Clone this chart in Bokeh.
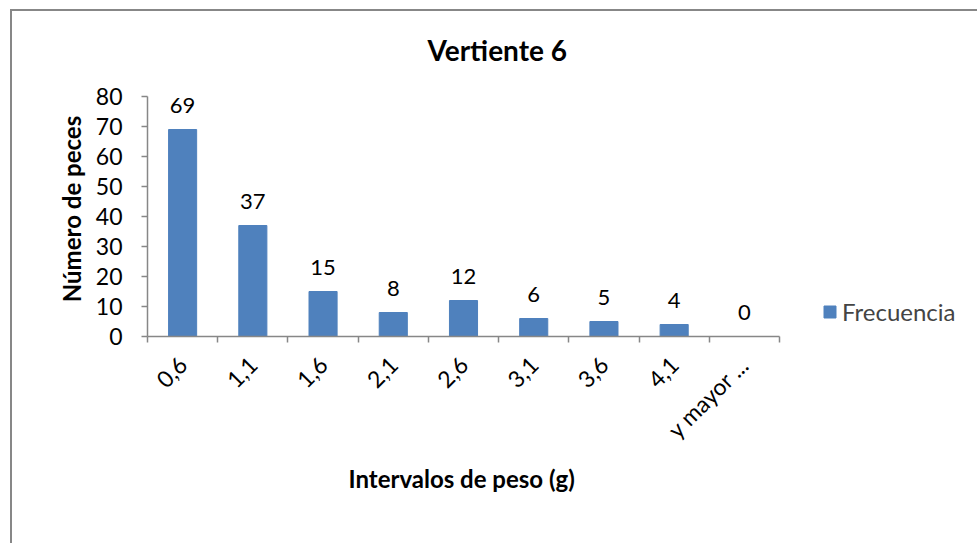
import math
from bokeh.plotting import figure
from bokeh.models import (FixedTicker, LabelSet, Legend, LegendItem,
                          ColumnDataSource, Range1d, Title)
from bokeh.core.properties import value
from bokeh.embed import file_html
from bokeh.resources import INLINE

# ---- data ----
categories = ["0,6", "1,1", "1,6", "2,1", "2,6", "3,1", "3,6", "4,1", "y mayor ..."]
frecuencia = [69, 37, 15, 8, 12, 6, 5, 4, 0]
y_ticks = [0, 10, 20, 30, 40, 50, 60, 70, 80]
title_text = "Vertiente 6"
x_title = "Intervalos de peso (g)"
y_title = "Número de peces"
series_name = "Frecuencia"

FONT = "Lato"
BAR = "#4F81BD"
AX = "#878787"
TXT = "22px"
LAB = "24px"

# layout (pixels): plotting area spans to the right edge so the legend can sit inside it
AXIS_PX = 632      # length of the category axis
FRAME_PX = 832     # width of the plotting frame
Y_MAX = 80
Y_TOP = 85         # headroom above the last tick so labels are not clipped

n = len(categories)
xc = [i + 0.5 for i in range(n)]
src = ColumnDataSource(dict(x=xc, top=frecuencia, label=[str(v) for v in frecuencia]))

p = figure(width=967, height=534, output_backend="svg", toolbar_location=None,
           x_range=Range1d(0, n * FRAME_PX / AXIS_PX), y_range=Range1d(0, Y_TOP),
           min_border_left=135, min_border_right=0,
           min_border_top=70, min_border_bottom=209,
           margin=(9, 0, 0, 10))
p.styles = {"border-left": f"2px solid {AX}", "border-top": f"2px solid {AX}"}
p.outline_line_color = None
p.xgrid.visible = False
p.ygrid.visible = False
p.background_fill_color = "white"
p.border_fill_color = "white"

# title
p.title.text = title_text
p.title.align = "left"
p.title.offset = 280
p.title.standoff = 30
p.title.vertical_align = "bottom"
p.title.text_font = FONT
p.title.text_font_size = "28px"
p.title.text_font_style = "bold"
p.title.text_color = "black"

r = p.vbar(x="x", top="top", width=0.4, bottom=0, source=src,
           fill_color=BAR, line_color=BAR)

labels = LabelSet(x="x", y="top", text="label", source=src, text_align="center",
                  text_baseline="alphabetic", y_offset=17, text_font=value(FONT),
                  text_font_size=value(TXT), text_color="black")
p.add_layout(labels)

# x axis
xa = p.xaxis[0]
xa.bounds = (0, n)
xa.ticker = FixedTicker(ticks=xc, minor_ticks=list(range(n + 1)))
xa.major_label_overrides = {float(v): c for v, c in zip(xc, categories)}
xa.major_label_orientation = math.pi / 4
xa.major_tick_line_color = None
xa.major_tick_out = 0
xa.major_tick_in = 0
xa.minor_tick_out = 6
xa.minor_tick_in = 0
xa.minor_tick_line_color = AX
xa.minor_tick_line_width = 1.5
xa.axis_line_color = AX
xa.axis_line_width = 1.5
xa.major_label_standoff = 18
xa.major_label_text_font = FONT
xa.major_label_text_font_size = "23px"
xa.major_label_text_color = "black"

# x axis title (placed under the category axis, not the whole frame)
xt = Title(text=x_title, align="left", offset=201, standoff=14,
           vertical_align="top", text_font=FONT, text_font_size=LAB,
           text_font_style="bold", text_color="black")
p.add_layout(xt, "below")

# y axis
ya = p.yaxis[0]
ya.bounds = (0, Y_MAX)
ya.ticker = FixedTicker(ticks=y_ticks)
ya.minor_tick_line_color = None
ya.major_tick_out = 6
ya.major_tick_in = 0
ya.major_tick_line_color = AX
ya.major_tick_line_width = 1.5
ya.axis_line_color = AX
ya.axis_line_width = 1.5
ya.major_label_standoff = 19
ya.major_label_text_font = FONT
ya.major_label_text_font_size = "23px"
ya.major_label_text_color = "black"
ya.axis_label = y_title
ya.axis_label_text_font = FONT
ya.axis_label_text_font_size = LAB
ya.axis_label_text_font_style = "bold"
ya.axis_label_text_color = "black"
ya.axis_label_standoff = 7

legend = Legend(items=[LegendItem(label=series_name, renderers=[r])],
                location=(675, 10), orientation="vertical",
                glyph_width=15, glyph_height=15, label_standoff=5,
                label_text_font=FONT, label_text_font_size=LAB,
                padding=0, margin=0, border_line_color=None,
                background_fill_alpha=0)
p.add_layout(legend)

open("out.html", "w").write(file_html(p, INLINE))
